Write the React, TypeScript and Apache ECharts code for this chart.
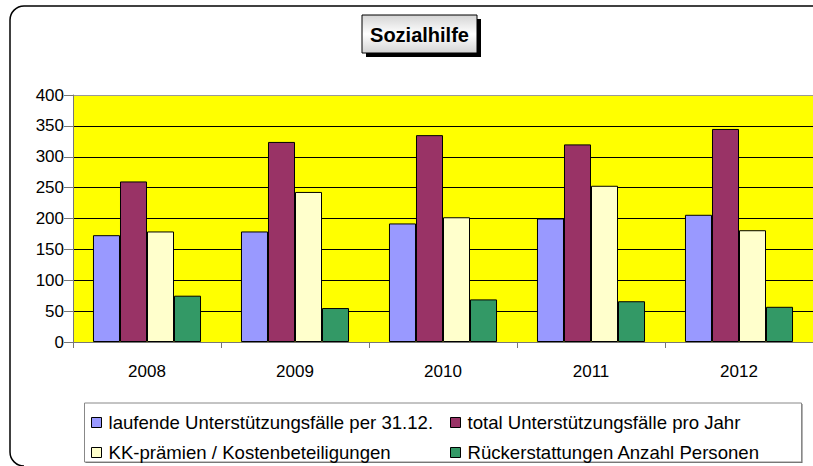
import React, { useEffect, useRef } from "react";
import * as echarts from "echarts";

const categories = ["2008", "2009", "2010", "2011", "2012"];
const seriesNames = [
  "laufende Unterstützungsfälle per 31.12.",
  "total Unterstützungsfälle pro Jahr",
  "KK-prämien / Kostenbeteiligungen",
  "Rückerstattungen Anzahl Personen",
];
const laufende = [173, 179, 192, 200, 206];
const total = [260, 324, 335, 320, 345];
const kkPraemien = [179, 243, 202, 253, 181];
const rueckerstattungen = [75, 55, 69, 66, 57];
const yTicks = { min: 0, max: 400, interval: 50 };
const colors = ["#9999FF", "#993366", "#FFFFCC", "#339966"];

export default function App() {
  const ref = useRef<HTMLDivElement>(null);
  useEffect(() => {
    if (!ref.current) return;
    const chart = echarts.init(ref.current, undefined, { renderer: "svg" });
    const values = [laufende, total, kkPraemien, rueckerstattungen];
    const font = "Arial, 'Liberation Sans', sans-serif";
    const legendPos = [
      { left: 91, top: 413 },
      { left: 450, top: 413 },
      { left: 91, top: 443 },
      { left: 450, top: 443 },
    ];
    const frameStyle = { fill: "none", stroke: "#000", lineWidth: 1.5 };
    chart.setOption({
      animation: false,
      backgroundColor: "#ffffff",
      textStyle: { fontFamily: font },
      grid: { left: 73, top: 95, width: 742, height: 247, backgroundColor: "#FFFF00", show: true, borderWidth: 0 },
      xAxis: {
        type: "category",
        data: categories,
        boundaryGap: true,
        axisLine: { lineStyle: { color: "#777", width: 1 } },
        axisTick: { show: true, length: 6, lineStyle: { color: "#777" } },
        axisLabel: { color: "#000", fontSize: 17, fontFamily: font, margin: 21 },
      },
      yAxis: {
        type: "value",
        min: yTicks.min,
        max: yTicks.max,
        interval: yTicks.interval,
        axisLine: { show: true, lineStyle: { color: "#777", width: 1 } },
        axisTick: { show: true, length: 9, lineStyle: { color: "#777" } },
        axisLabel: { color: "#000", fontSize: 17, fontFamily: font, margin: 9 },
        splitLine: {
          lineStyle: {
            color: ["#000", "#000", "#000", "#000", "#000", "#000", "#000", "#000", "#999"],
            width: 1,
          },
        },
      },
      legend: seriesNames.map((name, i) => ({
        data: [name],
        left: legendPos[i].left,
        top: legendPos[i].top,
        padding: 0,
        itemWidth: 10,
        itemHeight: 10,
        icon: "rect",
        itemStyle: { borderColor: "#000", borderWidth: 1 },
        textStyle: { fontSize: 18.6, color: "#000", fontFamily: font, padding: [0, 0, 0, 2] },
      })),
      series: seriesNames.map((name, i) => ({
        name,
        type: "bar",
        data: values[i],
        barGap: "0%",
        barCategoryGap: "27%",
        itemStyle: { color: colors[i], borderColor: "#000", borderWidth: 1 },
      })),
      graphic: [
        { type: "line", z: 100, silent: true, shape: { x1: 24, y1: 6, x2: 813, y2: 6 }, style: frameStyle },
        { type: "line", z: 100, silent: true, shape: { x1: 10, y1: 20, x2: 10, y2: 452 }, style: frameStyle },
        {
          type: "arc",
          z: 100,
          silent: true,
          shape: { cx: 24, cy: 20, r: 14, startAngle: Math.PI, endAngle: Math.PI * 1.5 },
          style: frameStyle,
        },
        {
          type: "arc",
          z: 100,
          silent: true,
          shape: { cx: 24, cy: 452, r: 14, startAngle: Math.PI * 0.5, endAngle: Math.PI },
          style: frameStyle,
        },
        {
          type: "rect",
          z: -1,
          shape: { x: 85.5, y: 404, width: 717, height: 59 },
          style: { fill: "#666" },
          silent: true,
        },
        {
          type: "rect",
          z: 0,
          shape: { x: 84.5, y: 403, width: 717, height: 59 },
          style: { fill: "#fff", stroke: "#888", lineWidth: 1 },
          silent: true,
        },
        {
          type: "rect",
          z: 100,
          shape: { x: 366, y: 19, width: 115, height: 38 },
          style: { fill: "#000" },
          silent: true,
        },
        {
          type: "rect",
          z: 101,
          shape: { x: 362, y: 15, width: 115, height: 38 },
          style: {
            fill: new echarts.graphic.LinearGradient(0, 0, 0, 1, [
              { offset: 0, color: "#d4d4d4" },
              { offset: 0.5, color: "#ffffff" },
              { offset: 1, color: "#d4d4d4" },
            ]),
            stroke: "#000",
            lineWidth: 1,
          },
          silent: true,
        },
        {
          type: "text",
          z: 102,
          x: 419.5,
          y: 35,
          style: {
            text: "Sozialhilfe",
            font: "bold 20px Arial, 'Liberation Sans', sans-serif",
            fill: "#000",
            align: "center",
            verticalAlign: "middle",
          },
          silent: true,
        },
      ],
    });
    return () => chart.dispose();
  }, []);
  return (
    <div
      ref={ref}
      style={{ position: "fixed", left: 0, top: 0, width: 813, height: 466 }}
    />
  );
}
